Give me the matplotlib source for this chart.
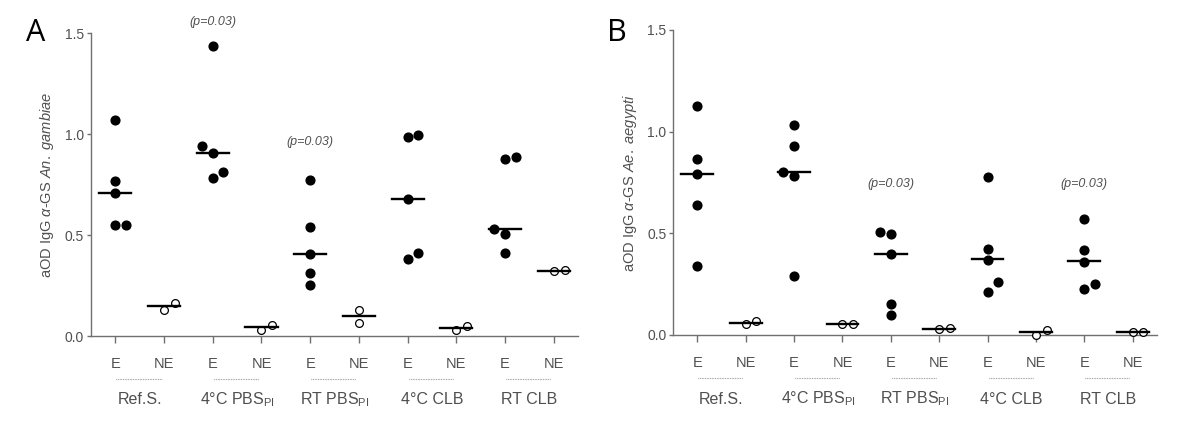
import numpy as np
import matplotlib
matplotlib.use("Agg")
import matplotlib.pyplot as plt
import matplotlib.transforms as mtransforms

plt.rcParams["font.family"] = ["Liberation Sans", "DejaVu Sans"]
plt.rcParams["mathtext.fontset"] = "custom"
plt.rcParams["mathtext.rm"] = "Liberation Sans"
plt.rcParams["mathtext.it"] = "Liberation Sans:italic"
plt.rcParams["mathtext.bf"] = "Liberation Sans:bold"

# ---------------- data ----------------
groups = ["Ref.S.", "4°C PBS$_{\\mathregular{PI}}$", "RT PBS$_{\\mathregular{PI}}$", "4°C CLB", "RT CLB"]
subcats = ["E", "NE"]

# Panel A: An. gambiae  (per group: E values, NE values)
a_E = [
    [1.067, 0.769, 0.708, 0.549, 0.549],
    [1.435, 0.941, 0.905, 0.782, 0.812],
    [0.772, 0.541, 0.405, 0.313, 0.253],
    [0.986, 0.997, 0.676, 0.380, 0.410],
    [0.875, 0.885, 0.529, 0.506, 0.410],
]
a_NE = [
    [0.127, 0.165],
    [0.031, 0.056],
    [0.127, 0.063],
    [0.031, 0.051],
    [0.322, 0.325],
]
a_E_med = [0.708, 0.905, 0.405, 0.676, 0.529]
a_NE_med = [0.148, 0.043, 0.099, 0.041, 0.324]
a_pvals = {1: ("(p=0.03)", 1.555), 2: ("(p=0.03)", 0.962)}

# Panel B: Ae. aegypti
b_E = [
    [1.128, 0.864, 0.792, 0.638, 0.339],
    [1.033, 0.928, 0.800, 0.782, 0.289],
    [0.505, 0.495, 0.398, 0.152, 0.097],
    [0.777, 0.425, 0.369, 0.259, 0.213],
    [0.570, 0.420, 0.359, 0.252, 0.226],
]
b_NE = [
    [0.056, 0.069],
    [0.054, 0.054],
    [0.028, 0.033],
    [0.000, 0.025],
    [0.016, 0.017],
]
b_E_med = [0.792, 0.800, 0.400, 0.372, 0.362]
b_NE_med = [0.061, 0.054, 0.030, 0.014, 0.017]
b_pvals = {2: ("(p=0.03)", 0.745), 4: ("(p=0.03)", 0.745)}

# horizontal jitter for overlapping points (layout only, category units)
a_E_jit = [
    [0, 0, 0, 0, 0.22],
    [0, -0.22, 0, 0, 0.22],
    [0, 0, 0, 0, 0],
    [0, 0.22, 0, 0, 0.22],
    [0, 0.22, -0.22, 0, 0],
]
a_NE_jit = [[0, 0.22], [0, 0.22], [0, 0], [0, 0.22], [0, 0.22]]
b_E_jit = [
    [0, 0, 0, 0, 0],
    [0, 0, -0.22, 0, 0],
    [-0.22, 0, 0, 0, 0],
    [0, 0, 0, 0.22, 0],
    [0, 0, 0, 0.22, 0],
]
b_NE_jit = [[0, 0.22], [0, 0.22], [0, 0.22], [0, 0.22], [0, 0.22]]

GRAY = "#505050"

fig = plt.figure(figsize=(12, 4.44), dpi=100)
axA = fig.add_axes([0.0758, 0.2432, 0.406, 0.6824])
axB = fig.add_axes([0.561, 0.2455, 0.403, 0.687])


def draw(ax, E, NE, Emed, NEmed, Ejit, NEjit, pvals, ylabel):
    for g in range(len(groups)):
        xe = 2 * g
        xn = 2 * g + 1
        ax.plot(np.array(Ejit[g]) + xe, E[g], "o", color="black", ms=6.3,
                mec="black", clip_on=False, zorder=3)
        ax.plot(np.array(NEjit[g]) + xn, NE[g], "o", mfc="white", mec="black",
                ms=5.6, mew=0.9, clip_on=False, zorder=3)
        ax.plot([xe - 0.33, xe + 0.33], [Emed[g], Emed[g]], color="black", lw=1.7, zorder=4)
        ax.plot([xn - 0.33, xn + 0.33], [NEmed[g], NEmed[g]], color="black", lw=1.7, zorder=4)
    for g, (txt, yv) in pvals.items():
        ax.text(2 * g, yv, txt, ha="center", va="center", fontsize=9,
                style="italic", color=GRAY)

    ax.set_xlim(-0.5, 9.5)
    ax.set_ylim(0, 1.5)
    ax.set_yticks([0, 0.5, 1.0, 1.5])
    ax.set_yticklabels(["0.0", "0.5", "1.0", "1.5"])
    ax.set_xticks(range(10))
    ax.set_xticklabels(subcats * 5)
    for s in ["top", "right"]:
        ax.spines[s].set_visible(False)
    for s in ["left", "bottom"]:
        ax.spines[s].set_color("#707070")
        ax.spines[s].set_linewidth(1.0)
    ax.tick_params(axis="y", length=3, width=1, color="#707070", labelcolor=GRAY,
                   labelsize=10, pad=2)
    ax.tick_params(axis="x", length=5, width=1, color="#707070", labelcolor=GRAY,
                   labelsize=10.5, pad=10)
    ax.set_ylabel(ylabel, fontsize=10.5, color=GRAY, labelpad=6)

    trans = mtransforms.blended_transform_factory(ax.transData, ax.transAxes)
    for g, name in enumerate(groups):
        ax.plot([2 * g + 0.02, 2 * g + 0.95], [-0.142, -0.142], transform=trans,
                color="#808080", lw=0.8, ls=(0, (0.6, 0.9)), clip_on=False)
        ax.text(2 * g + 0.5, -0.21, name, transform=trans, ha="center", va="center",
                fontsize=11.5, color=GRAY)


draw(axA, a_E, a_NE, a_E_med, a_NE_med, a_E_jit, a_NE_jit, a_pvals,
     "aOD IgG $\\alpha$-GS $\\mathit{An.\\ gambiae}$")
draw(axB, b_E, b_NE, b_E_med, b_NE_med, b_E_jit, b_NE_jit, b_pvals,
     "aOD IgG $\\alpha$-GS $\\mathit{Ae.\\ aegypti}$")

fig.text(0.030, 0.925, "A", fontsize=22, color="black", ha="center", va="center",
         family=["Open Sans", "DejaVu Sans"])
fig.text(0.514, 0.925, "B", fontsize=22, color="black", ha="center", va="center",
         family=["Open Sans", "DejaVu Sans"])

fig.savefig("out.png", dpi=100)
